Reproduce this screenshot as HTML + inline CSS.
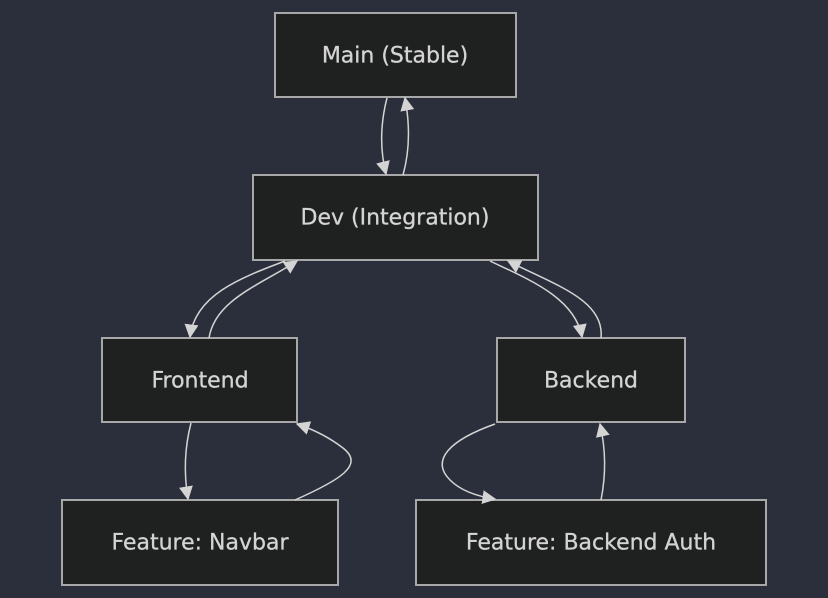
<!DOCTYPE html>
<html><head><meta charset="utf-8"><style>
html,body{margin:0;padding:0;background:#2b2f3b;}
svg{display:block}
text{font-family:"DejaVu Sans","Liberation Sans",sans-serif;font-size:22px;fill:#d4d4d4;text-anchor:middle;dominant-baseline:central;stroke:#d4d4d4;stroke-width:0.3}
</style></head><body>
<svg width="828" height="598" viewBox="0 0 828 598">
<defs><marker id="a" viewBox="0 0 10 10" refX="9" refY="5" markerWidth="14" markerHeight="14" markerUnits="userSpaceOnUse" orient="auto"><path d="M0,0L10,5L0,10z" fill="#d4d4d4"/></marker></defs>
<rect width="828" height="598" fill="#2b2f3b"/>
<g fill="#1f2020" stroke="#a8a8a8" stroke-width="2">
<rect x="275" y="13" width="241" height="84"/>
<rect x="253" y="175" width="285" height="85"/>
<rect x="102" y="338" width="195" height="84"/>
<rect x="497" y="338" width="188" height="84"/>
<rect x="62" y="500" width="276" height="85"/>
<rect x="416" y="500" width="350" height="85"/>
</g>
<g fill="none" stroke="#d4d4d4" stroke-width="1.5" marker-end="url(#a)">
<path d="M387,98 C380,125 380,150 386,174"/>
<path d="M403,175 C410,150 410,125 405,98"/>
<path d="M285,261 C240,278 195,295 190,337"/>
<path d="M209,338 C215,300 260,285 297,261"/>
<path d="M490,261 C530,280 575,298 582,337"/>
<path d="M601,338 C605,300 555,285 508,261"/>
<path d="M191,423 C184,450 184,475 188,499"/>
<path d="M295,500 C340,480 365,465 343,448 C330,438 315,430 297,424"/>
<path d="M495,424 C450,440 430,460 450,480 C460,490 475,496 495,499"/>
<path d="M601,500 C606,475 606,450 600,424"/>
</g>
<text x="395" y="56">Main (Stable)</text>
<text x="395" y="218">Dev (Integration)</text>
<text x="200" y="381">Frontend</text>
<text x="591" y="381">Backend</text>
<text x="200" y="543">Feature: Navbar</text>
<text x="591" y="543">Feature: Backend Auth</text>
</svg>
</body></html>
